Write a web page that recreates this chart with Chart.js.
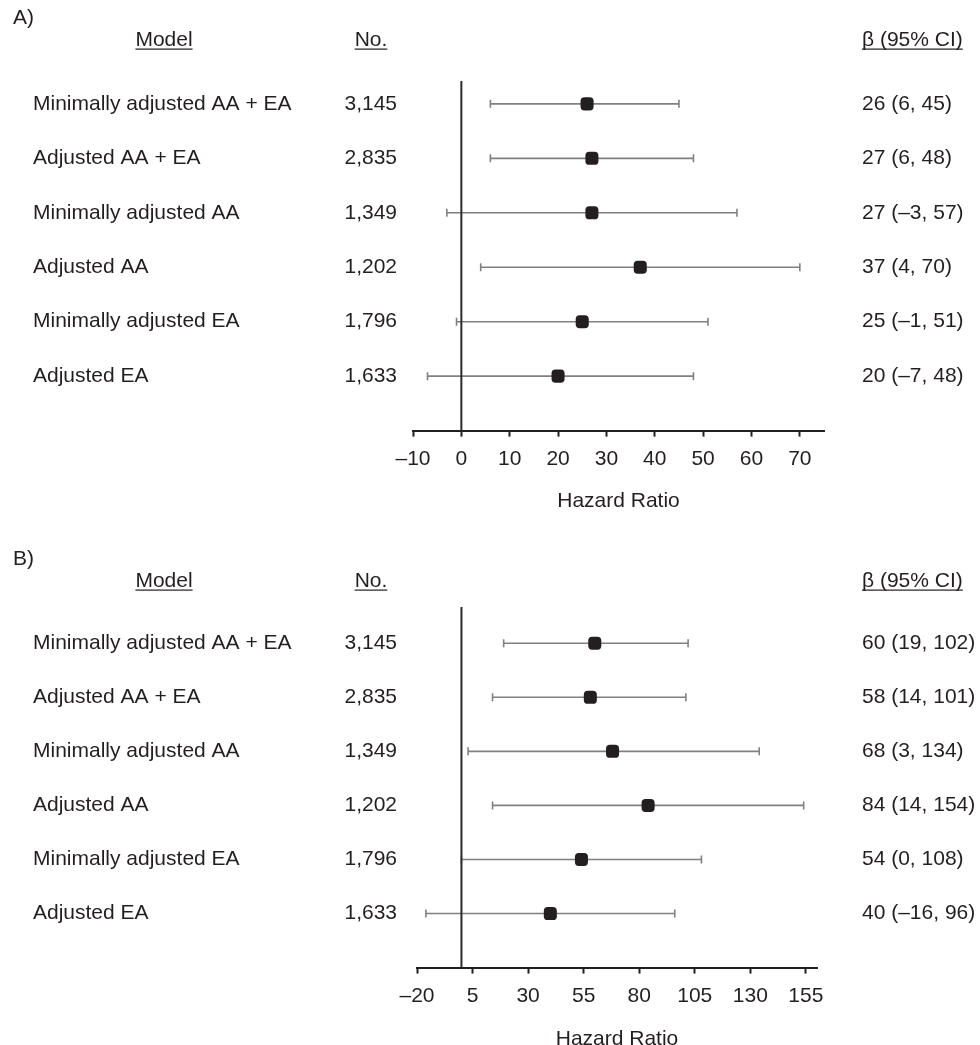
<!DOCTYPE html>
<html>
<head>
<meta charset="utf-8">
<script src="https://cdn.jsdelivr.net/npm/chart.js@4/dist/chart.umd.min.js"></script>
<style>
  html, body { margin: 0; padding: 0; background: #fff; overflow: hidden; }
  #wrap { position: relative; width: 980px; height: 1045px; }
  canvas { position: absolute; left: 0; }
  #panelA { top: 0; }
  #panelB { top: 520px; }
</style>
</head>
<body>
<div id="wrap">
  <canvas id="panelA" width="980" height="520"></canvas>
  <canvas id="panelB" width="980" height="540"></canvas>
</div>
<script>
// rows shared by both panels
const models = [
  "Minimally adjusted AA + EA",
  "Adjusted AA + EA",
  "Minimally adjusted AA",
  "Adjusted AA",
  "Minimally adjusted EA",
  "Adjusted EA",
];
const counts = ["3,145", "2,835", "1,349", "1,202", "1,796", "1,633"];

// panel A
const betaA = [26, 27, 27, 37, 25, 20];
const lowA = [6, 6, -3, 4, -1, -7];
const highA = [45, 48, 57, 70, 51, 48];
const ticksA = [-10, 0, 10, 20, 30, 40, 50, 60, 70];

// panel B
const betaB = [60, 58, 68, 84, 54, 40];
const lowB = [19, 14, 3, 14, 0, -16];
const highB = [102, 101, 134, 154, 108, 96];
const ticksB = [-20, 5, 30, 55, 80, 105, 130, 155];

const INK = "#231f20";
const GREY = "#808080";
const FAMILY = "'Liberation Sans', Arial, Helvetica, sans-serif";
const SIZE = 21;

// en dash for negative numbers, like the printed figure
function fmt(v) {
  return v < 0 ? "\u2013" + Math.abs(v) : String(v);
}

function underlined(ctx, text, x, y, align) {
  ctx.textAlign = align;
  ctx.fillText(text, x, y);
  const w = ctx.measureText(text).width;
  let x0 = x;
  if (align === "center") x0 = x - w / 2;
  if (align === "right") x0 = x - w;
  ctx.fillRect(x0, y + 8.5, w, 1.2);
}

const forestText = {
  id: "forestText",
  afterDraw(chart, args, opts) {
    const ctx = chart.ctx;
    const y = chart.scales.y;
    ctx.save();
    ctx.font = SIZE + "px " + FAMILY;
    ctx.fillStyle = INK;
    ctx.textBaseline = "middle";

    ctx.textAlign = "left";
    ctx.fillText(opts.letter, 13, opts.letterY);

    underlined(ctx, "Model", 164, opts.headY, "center");
    underlined(ctx, "No.", 371, opts.headY, "center");
    underlined(ctx, "\u03b2 (95% CI)", 862, opts.headY, "left");

    models.forEach((m, i) => {
      const py = y.getPixelForValue(i);
      ctx.textAlign = "left";
      ctx.fillText(m, 33, py);
      ctx.textAlign = "right";
      ctx.fillText(counts[i], 397, py);
      ctx.textAlign = "left";
      ctx.fillText(
        fmt(opts.beta[i]) + " (" + fmt(opts.low[i]) + ", " + fmt(opts.high[i]) + ")",
        862, py
      );
    });
    ctx.restore();
  },
};

function makePanel(id, p) {
  const datasets = [];

  // point estimates
  datasets.push({
    data: p.beta.map((b, i) => ({ x: b, y: i })),
    pointStyle: "rectRounded",
    pointRadius: 7.6,
    pointBackgroundColor: INK,
    pointBorderColor: INK,
    pointBorderWidth: 0,
    showLine: false,
    order: 0,
  });

  // reference line at zero
  datasets.push({
    data: [{ x: 0, y: p.yTop }, { x: 0, y: 6 }],
    showLine: true,
    borderColor: "#2b2b2b",
    borderWidth: 2,
    pointRadius: 0,
    order: 1,
  });

  // confidence intervals with end caps
  p.low.forEach((lo, i) => {
    datasets.push({
      data: [{ x: lo, y: i }, { x: p.high[i], y: i }],
      showLine: true,
      borderColor: GREY,
      borderWidth: 1.6,
      pointStyle: "line",
      pointRotation: 90,
      pointRadius: 4,
      pointBorderColor: GREY,
      pointBorderWidth: 1.6,
      order: 2,
    });
  });

  return new Chart(document.getElementById(id), {
    type: "scatter",
    data: { datasets: datasets },
    plugins: [forestText],
    options: {
      responsive: false,
      animation: false,
      events: [],
      layout: {
        padding: { left: p.left, right: p.right, top: p.top, bottom: p.bottom },
      },
      scales: {
        x: {
          type: "linear",
          min: p.min,
          max: p.max,
          afterBuildTicks: (scale) => {
            scale.ticks = p.ticks.map((v) => ({ value: v }));
          },
          border: { display: true, color: INK, width: 2 },
          grid: {
            drawOnChartArea: false,
            drawTicks: true,
            tickLength: 6,
            tickWidth: 2,
            tickColor: INK,
          },
          ticks: {
            padding: 10,
            color: INK,
            font: { family: FAMILY, size: SIZE },
            callback: (v) => fmt(v),
          },
          title: {
            display: true,
            text: "Hazard Ratio",
            color: INK,
            font: { family: FAMILY, size: SIZE },
            padding: { top: p.titleGap, bottom: 0 },
          },
        },
        y: {
          type: "linear",
          reverse: true,
          min: p.yTop,
          max: 6,
          display: false,
        },
      },
      plugins: {
        legend: { display: false },
        tooltip: { enabled: false },
        forestText: {
          letter: p.letter,
          letterY: p.letterY,
          headY: p.headY,
          beta: p.beta,
          low: p.low,
          high: p.high,
        },
      },
    },
  });
}

makePanel("panelA", {
  letter: "A)", letterY: 18, headY: 40,
  beta: betaA, low: lowA, high: highA, ticks: ticksA,
  min: -10, max: 75, yTop: -0.42,
  left: 413, right: 156, top: 81, bottom: 6, titleGap: 7,
});

makePanel("panelB", {
  letter: "B)", letterY: 39, headY: 61,
  beta: betaB, low: lowB, high: highB, ticks: ticksB,
  min: -20, max: 160, yTop: -0.67,
  left: 417, right: 163, top: 87, bottom: 8, titleGap: 8,
});
</script>
</body>
</html>
